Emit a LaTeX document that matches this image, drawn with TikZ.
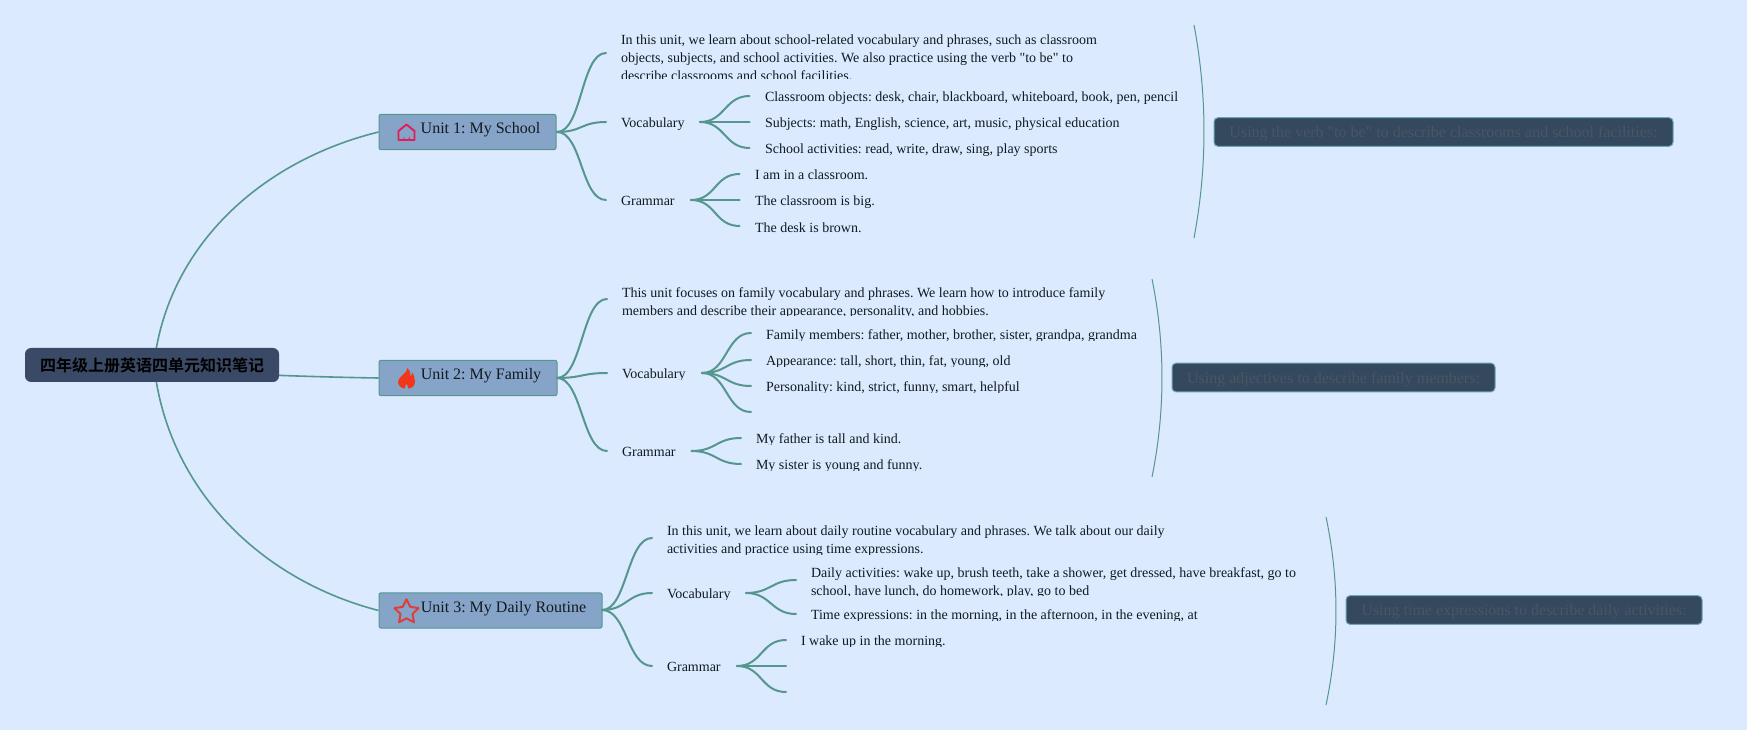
\documentclass[tikz,border=0pt]{standalone}
\usepackage{fontspec}
\setmainfont{Liberation Serif}
\newfontfamily\plainserif{Liberation Serif}
\newfontfamily\cjkfont[BoldFont={Noto Sans CJK SC Bold}]{Noto Sans CJK SC}
\usetikzlibrary{backgrounds,shapes.geometric}
\definecolor{bgc}{HTML}{DBEAFE}
\definecolor{rootc}{HTML}{3A4A66}
\definecolor{unitc}{HTML}{86A3C8}
\definecolor{sumc}{HTML}{34495E}
\definecolor{sumline}{HTML}{6FA5B0}
\definecolor{sumtxt}{HTML}{4B5563}
\definecolor{linkc}{HTML}{55978F}
\definecolor{txtc}{HTML}{111A22}
\definecolor{housec}{HTML}{E11D5A}
\definecolor{flamec}{HTML}{F2361A}
\definecolor{starc}{HTML}{DC3F3A}
\tikzset{
  x=0.75pt,y=-0.75pt,
  link/.style={draw=linkc,line width=1.5pt,line cap=round},
  rootlink/.style={draw=linkc,line width=1.2pt},
  thinlink/.style={draw=linkc,line width=0.75pt},
  txt/.style={inner sep=0pt,outer sep=0pt,anchor=north west,align=left,text=txtc,font=\plainserif\frenchspacing\fontsize{10.5}{13.5}\selectfont},
  rootbox/.style={fill=rootc,rounded corners=4.5pt,inner sep=0pt,minimum width=190.5pt,minimum height=25.5pt,text height=11.25pt,text depth=1.5pt,font=\cjkfont\bfseries\fontsize{12}{14}\selectfont,text=black},
  unitbox/.style={draw=linkc,line width=0.75pt,fill=unitc,rounded corners=1.5pt,inner sep=0pt,minimum height=26.5pt,text height=8pt,text depth=5.2pt,font=\plainserif\frenchspacing\fontsize{12}{14}\selectfont,text=txtc},
  sumbox/.style={draw=sumline,line width=0.75pt,fill=sumc,rounded corners=3pt,inner sep=0pt,minimum height=21.5pt,text height=10.25pt,text depth=2pt,font=\plainserif\frenchspacing\fontsize{12}{14}\selectfont,text=sumtxt},
}
% name, x, first baseline, clip bottom, text
\newcommand{\cliptxt}[5]{%
  \begin{scope}
    \clip (#2-4,#3-20) rectangle (#2+620,#4);
    \node[txt] (#1) at (#2,#3-13.33) {\rule{0pt}{10pt}#5};
  \end{scope}}
\newcommand{\curve}[2]{\draw[link] (#1) .. controls +(25,0) and +(-25,0) .. (#2);}
\begin{document}
\begin{tikzpicture}
\begin{pgfonlayer}{background}
\path[use as bounding box,fill=bgc] (0,0) rectangle (1747,730);
\end{pgfonlayer}

% root and units
\node[rootbox] (root) at (152,365) {四年级上册英语四单元知识笔记};
\node[unitbox,minimum width=132.75pt] (u1) at (467.5,132) {\hspace*{19.5pt}Unit 1: My School};
\node[unitbox,minimum width=133.5pt] (u2) at (468,378) {\hspace*{19.5pt}Unit 2: My Family};
\node[unitbox,minimum width=167.25pt] (u3) at (490.5,610.5) {\hspace*{19.5pt}Unit 3: My Daily Routine};

% icons
\draw[housec,line width=1.4pt,line join=round] (398.5,140) -- (398.5,131) -- (406.5,124.5) -- (414.5,131) -- (414.5,140) -- cycle;
\fill[housec] (403.5,140) -- (403.5,136.5) arc[start angle=180,end angle=0,radius=3] -- (409.5,140) -- cycle;
\fill[flamec] (407.5,368) .. controls (408,373) and (398,376) .. (398,382)
  .. controls (398,386) and (402,388.5) .. (405,388.5)
  .. controls (405,386) and (405.5,385) .. (406.5,384)
  .. controls (407.5,385) and (408,386) .. (408,388.5)
  .. controls (412,388.5) and (415,385.5) .. (415,381.5)
  .. controls (415,378) and (413.5,375) .. (412.5,372.5)
  .. controls (412,374.5) and (411.5,375.5) .. (410.5,376)
  .. controls (411,373) and (409.5,370) .. (407.5,368) -- cycle;
\node[star,star points=5,star point ratio=2,draw=starc,line width=1.5pt,line join=round,inner sep=0pt,minimum size=19pt] (ic3) at (406.5,612) {};

% unit 1 text
\cliptxt{u1p}{621}{45}{78.5}{In this unit, we learn about school-related vocabulary and phrases, such as classroom\\objects, subjects, and school activities. We also practice using the verb "to be" to\\describe classrooms and school facilities.}
\cliptxt{u1v}{621}{128}{129.5}{Vocabulary}
\cliptxt{u1va}{765}{102}{103.5}{Classroom objects: desk, chair, blackboard, whiteboard, book, pen, pencil}
\cliptxt{u1vb}{765}{128}{129.5}{Subjects: math, English, science, art, music, physical education}
\cliptxt{u1vc}{765}{154}{155.5}{School activities: read, write, draw, sing, play sports}
\cliptxt{u1g}{621}{206}{207.5}{Grammar}
\cliptxt{u1ga}{755}{180}{181.5}{I am in a classroom.}
\cliptxt{u1gb}{755}{206}{207.5}{The classroom is big.}
\cliptxt{u1gc}{755}{232}{233.5}{The desk is brown.}

% unit 2 text
\cliptxt{u2p}{622}{297}{315.5}{This unit focuses on family vocabulary and phrases. We learn how to introduce family\\members and describe their appearance, personality, and hobbies.}
\cliptxt{u2v}{622}{378}{379.5}{Vocabulary}
\cliptxt{u2va}{766}{339}{340.5}{Family members: father, mother, brother, sister, grandpa, grandma}
\cliptxt{u2vb}{766}{365}{366.5}{Appearance: tall, short, thin, fat, young, old}
\cliptxt{u2vc}{766}{391}{392.5}{Personality: kind, strict, funny, smart, helpful}
\cliptxt{u2g}{622}{456}{457.5}{Grammar}
\cliptxt{u2ga}{756}{443}{444.5}{My father is tall and kind.}
\cliptxt{u2gb}{756}{469}{470.5}{My sister is young and funny.}

% unit 3 text
\cliptxt{u3p}{667}{535}{554}{In this unit, we learn about daily routine vocabulary and phrases. We talk about our daily\\activities and practice using time expressions.}
\cliptxt{u3v}{667}{598}{599.5}{Vocabulary}
\cliptxt{u3va}{811}{577}{595.5}{Daily activities: wake up, brush teeth, take a shower, get dressed, have breakfast, go to\\school, have lunch, do homework, play, go to bed}
\cliptxt{u3vb}{811}{619}{620.5}{Time expressions: in the morning, in the afternoon, in the evening, at}
\cliptxt{u3g}{667}{671}{672.5}{Grammar}
\cliptxt{u3ga}{801}{645}{646.5}{I wake up in the morning.}

% summaries
\node[sumbox,minimum width=344.25pt] (s1) at (1443.5,132) {Using the verb "to be" to describe classrooms and school facilities:};
\node[sumbox,minimum width=242.25pt] (s2) at (1333.5,377.5) {Using adjectives to describe family members:};
\node[sumbox,minimum width=267pt] (s3) at (1524,610) {Using time expressions to describe daily activities:};

% anchor points of links
\coordinate (r1) at (156,350); \coordinate (r2) at (277,375.3); \coordinate (r3) at (156,380);
\coordinate (a1) at (557,132); \coordinate (a2) at (557,378); \coordinate (a3) at (602,610);
\coordinate (p1) at (606,53);  \coordinate (v1) at (606,122); \coordinate (g1) at (606,200);
\coordinate (p2) at (607,299); \coordinate (v2) at (607,373); \coordinate (g2) at (607,451);
\coordinate (p3) at (652,538); \coordinate (v3) at (652,593); \coordinate (g3) at (652,666);
\coordinate (vs1) at (700,122); \coordinate (gs1) at (691,200);
\coordinate (vs2) at (702,373); \coordinate (gs2) at (691.5,451);
\coordinate (vs3) at (746,593); \coordinate (gs3) at (737,666);
\coordinate (e1a) at (749.5,96); \coordinate (e1b) at (749.5,122); \coordinate (e1c) at (749.5,148);
\coordinate (e1d) at (739.5,174); \coordinate (e1e) at (739.5,200); \coordinate (e1f) at (739.5,226);
\coordinate (e2a) at (751,333); \coordinate (e2b) at (751,360); \coordinate (e2c) at (751,386); \coordinate (e2d) at (751,412);
\coordinate (e2e) at (741,438); \coordinate (e2f) at (741,464);
\coordinate (e3a) at (796,580); \coordinate (e3b) at (796,614);
\coordinate (e3c) at (786,640); \coordinate (e3d) at (786,666); \coordinate (e3e) at (786,692);

% links from the root, behind it
\begin{pgfonlayer}{background}
\draw[rootlink] (r1) .. controls (175,240) and (265,160) .. (u1.west);
\draw[rootlink] (r2) .. controls (310,376.5) and (345,377.5) .. (u2.west);
\draw[rootlink] (r3) .. controls (175,496) and (265,581) .. (u3.west);
\end{pgfonlayer}

\curve{a1}{p1}\curve{a1}{v1}\curve{a1}{g1}
\curve{a2}{p2}\curve{a2}{v2}\curve{a2}{g2}
\curve{a3}{p3}\curve{a3}{v3}\curve{a3}{g3}
\foreach \e in {e1a,e1b,e1c}{\curve{vs1}{\e}}
\foreach \e in {e1d,e1e,e1f}{\curve{gs1}{\e}}
\foreach \e in {e2a,e2b,e2c,e2d}{\curve{vs2}{\e}}
\foreach \e in {e2e,e2f}{\curve{gs2}{\e}}
\foreach \e in {e3a,e3b}{\curve{vs3}{\e}}
\foreach \e in {e3c,e3d,e3e}{\curve{gs3}{\e}}

% summary brackets
\coordinate (b1t) at (1194,25); \coordinate (b1b) at (1194,238);
\coordinate (b2t) at (1152,279); \coordinate (b2b) at (1152,477);
\coordinate (b3t) at (1326,517); \coordinate (b3b) at (1326,705);
\draw[thinlink] (b1t) .. controls +(13.3,71) and +(13.3,-71) .. (b1b);
\draw[thinlink] (b2t) .. controls +(13.3,66) and +(13.3,-66) .. (b2b);
\draw[thinlink] (b3t) .. controls +(13.3,63) and +(13.3,-63) .. (b3b);
\end{tikzpicture}
\end{document}
